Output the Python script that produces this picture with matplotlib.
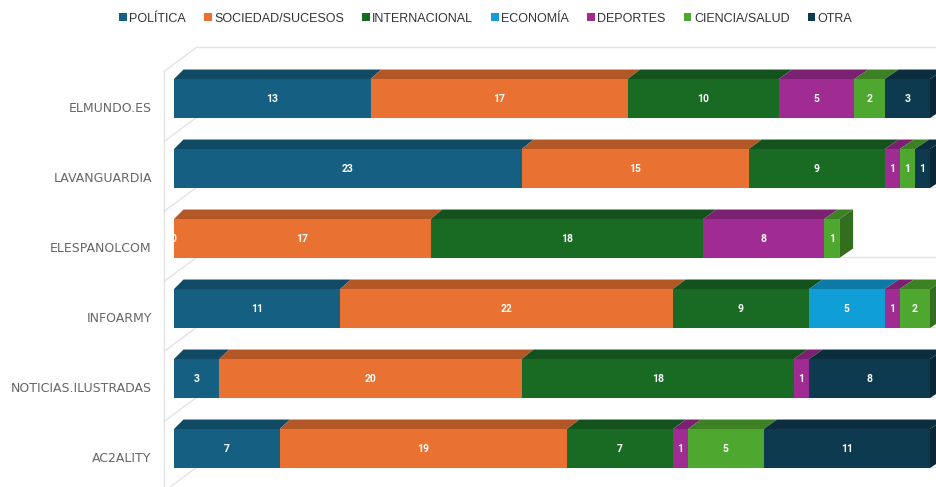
import numpy as np
import matplotlib
matplotlib.use('Agg')
import matplotlib.pyplot as plt
from matplotlib.patches import Polygon
from matplotlib.lines import Line2D
import matplotlib.colors as mcolors
import matplotlib.transforms as mtransforms

# ---------------- data ----------------
categories = ['ELMUNDO.ES', 'LAVANGUARDIA', 'ELESPANOLCOM', 'INFOARMY',
              'NOTICIAS.ILUSTRADAS', 'AC2ALITY']
series_names = ['POLÍTICA', 'SOCIEDAD/SUCESOS', 'INTERNACIONAL', 'ECONOMÍA',
                'DEPORTES', 'CIENCIA/SALUD', 'OTRA']
politica = [13, 23, 0, 11, 3, 7]
sociedad = [17, 15, 17, 22, 20, 19]
internacional = [10, 9, 18, 9, 18, 7]
economia = [None, None, None, 5, None, None]
deportes = [5, 1, 8, 1, 1, 1]
ciencia = [2, 1, 1, 2, None, 5]
otra = [3, 1, None, None, 8, 11]
series_values = [politica, sociedad, internacional, economia, deportes, ciencia, otra]
colors = ['#156082', '#e97132', '#196b24', '#0f9ed5', '#a02b93', '#4ea72e', '#0e3a50']

# ---------------- figure ----------------
W, H = 937, 487
DPI = 100
fig = plt.figure(figsize=(W / DPI, H / DPI), dpi=DPI)
x0px = 174.0
px_per_unit = 15.12
top_px = 71.5
ax = fig.add_axes([x0px / W, 0, 1 - x0px / W, (H - top_px) / H])
ax.set_xlim(0, (W - x0px) / px_per_unit)
ax.set_ylim((H - 106.5) / 70.0, -0.5)
for s in ax.spines.values():
    s.set_visible(False)
ax.set_xticks([])
ax.set_yticks(range(len(categories)))
ax.set_yticklabels(categories, fontsize=9, color='#666666', family='DejaVu Sans')
ax.tick_params(axis='y', length=0, pad=16)
ax.patch.set_alpha(0)

bar_off = 0.114
bar_h = 0.557
n = len(categories)
ypos = np.arange(n) - bar_off

def dark(c, f):
    r, g, b = mcolors.to_rgb(c)
    return (r * f, g * f, b * f)

ident = mtransforms.IdentityTransform()

# frame lines (light grey 3D box)
fig.canvas.draw()
T = ax.transData
grid_c = '#e3e3e3'
x_front = T.transform((0, 0))[0] - 10
x_back = x_front + 33
for k in range(n + 1):
    b = k - 0.5
    yd = T.transform((0, b))[1]
    ax.add_line(Line2D([x_front, x_back], [yd, yd + 24.5], color=grid_c, lw=1,
                       transform=ident, clip_on=False, zorder=0.5))
    ax.add_line(Line2D([x_back, W + 5], [yd + 24.5, yd + 24.5], color=grid_c, lw=1,
                       transform=ident, clip_on=False, zorder=0.5))
y_top = T.transform((0, -0.5))[1]
ax.add_line(Line2D([x_front, x_front], [y_top, -5], color=grid_c, lw=1,
                   transform=ident, clip_on=False, zorder=0.5))

# bars
left = np.zeros(n)
handles = []
segs = [[] for _ in range(n)]
for name, vals, col in zip(series_names, series_values, colors):
    w = np.array([0 if v is None else v for v in vals], dtype=float)
    bc = ax.barh(ypos, w, left=left, height=bar_h, color=col, label=name,
                 zorder=3, linewidth=0)
    handles.append(bc)
    for i, v in enumerate(vals):
        if v is None:
            continue
        segs[i].append((left[i], v, col))
        ax.text(left[i] + v / 2, ypos[i], str(v), ha='center', va='center',
                color='white', fontsize=7.5, fontweight='bold', family='Roboto',
                zorder=5, clip_on=True)
    left = left + w

DY = 9.5
def ddx(xpx):
    return 9.5 + 0.0065 * (xpx - x0px)

for i in range(n):
    nonzero = [s for s in segs[i] if s[1] > 0]
    for (l, v, col) in nonzero:
        xa, yt = T.transform((l, ypos[i] - bar_h / 2))
        xb, yb = T.transform((l + v, ypos[i] + bar_h / 2))
        top_face = [(xa, yt), (xb, yt), (xb + ddx(xb), yt + DY), (xa + ddx(xa), yt + DY)]
        ax.add_patch(Polygon(top_face, closed=True, facecolor=dark(col, 0.77),
                             edgecolor='none', transform=ident, clip_on=False, zorder=2))
    if nonzero:
        l, v, col = nonzero[-1]
        xb, yt = T.transform((l + v, ypos[i] - bar_h / 2))
        _, yb = T.transform((l + v, ypos[i] + bar_h / 2))
        side = [(xb, yt), (xb + ddx(xb), yt + DY), (xb + ddx(xb), yb + DY), (xb, yb)]
        ax.add_patch(Polygon(side, closed=True, facecolor=dark(col, 0.66),
                             edgecolor='none', transform=ident, clip_on=False, zorder=2))

fig.legend(handles, series_names, loc='center', bbox_to_anchor=(486 / W, 1 - 18.5 / H),
           ncol=7, frameon=False, prop={'family': 'Liberation Sans', 'size': 9},
           labelcolor='#333333', handlelength=0.6, handleheight=0.6,
           handletextpad=0.2, columnspacing=1.45, borderpad=0)

fig.savefig('out.png', dpi=DPI)
